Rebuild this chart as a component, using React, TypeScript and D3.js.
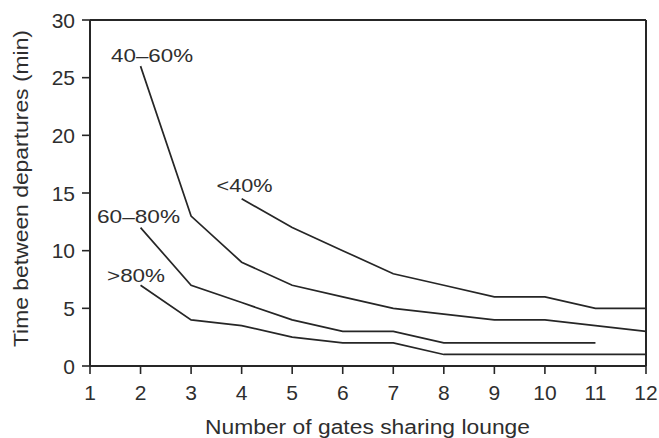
import React from "react";
import * as d3 from "d3";

const gates = [1, 2, 3, 4, 5, 6, 7, 8, 9, 10, 11, 12];
const yTicks = [0, 5, 10, 15, 20, 25, 30];

const seriesNames = ["<40%", "40–60%", "60–80%", ">80%"];
const lt40X = [4, 5, 6, 7, 8, 9, 10, 11, 12];
const lt40Y = [14.5, 12, 10, 8, 7, 6, 6, 5, 5];
const s40to60X = [2, 3, 4, 5, 6, 7, 8, 9, 10, 11, 12];
const s40to60Y = [26, 13, 9, 7, 6, 5, 4.5, 4, 4, 3.5, 3];
const s60to80X = [2, 3, 4, 5, 6, 7, 8, 9, 10, 11];
const s60to80Y = [12, 7, 5.5, 4, 3, 3, 2, 2, 2, 2];
const gt80X = [2, 3, 4, 5, 6, 7, 8, 9, 10, 11, 12];
const gt80Y = [7, 4, 3.5, 2.5, 2, 2, 1, 1, 1, 1, 1];

// label anchored at series' first point, with pixel offsets
const labelAnchors = [
  { name: "<40%", x: 4, y: 14.5, dx: -25, dy: -7, len: 56 },
  { name: "40–60%", x: 2, y: 26, dx: -29.5, dy: -4, len: 82 },
  { name: "60–80%", x: 2, y: 12, dx: -43.5, dy: -5, len: 83 },
  { name: ">80%", x: 2, y: 7, dx: -33.5, dy: -3, len: 58 },
];

export default function App() {
  const W = 659, H = 438;
  const left = 90, right = 646, top = 20, bottom = 366;
  const x = d3.scaleLinear().domain([1, 12]).range([left, right]);
  const y = d3.scaleLinear().domain([0, 30]).range([bottom, top]);
  const line = d3.line<[number, number]>().x(d => x(d[0])).y(d => y(d[1]));
  const series = [
    [lt40X, lt40Y],
    [s40to60X, s40to60Y],
    [s60to80X, s60to80Y],
    [gt80X, gt80Y],
  ].map(([xs, ys]) => xs.map((v, i) => [v, ys[i]] as [number, number]));
  const font = "'Liberation Sans', Arial, sans-serif";
  const textColor = "#2e2e2e";
  const stroke = "#262626";
  return (
    <svg width={W} height={H} style={{ position: "absolute", left: 0, top: 0, background: "#fff" }} fontFamily={font}>
      <rect x={0} y={0} width={W} height={H} fill="#fff" />
      <line x1={left} y1={top} x2={right} y2={top} stroke={stroke} strokeWidth={2} />
      <line x1={right} y1={top} x2={right} y2={bottom} stroke={stroke} strokeWidth={2} />
      <line x1={left} y1={top} x2={left} y2={bottom} stroke={stroke} strokeWidth={2} />
      <line x1={left} y1={bottom} x2={right} y2={bottom} stroke={stroke} strokeWidth={2} />
      {yTicks.map(t => (
        <g key={"y" + t}>
          <line x1={left - 8} x2={left} y1={y(t)} y2={y(t)} stroke={stroke} strokeWidth={1.6} />
          <text x={left - 15} y={y(t)} dy="0.36em" textAnchor="end" fontSize={21} fill={textColor}>{t}</text>
        </g>
      ))}
      {gates.map(g => (
        <g key={"x" + g}>
          <line x1={x(g)} x2={x(g)} y1={bottom} y2={bottom + 8} stroke={stroke} strokeWidth={1.6} />
          <text x={x(g)} y={bottom + 34} textAnchor="middle" fontSize={21} fill={textColor}>{g}</text>
        </g>
      ))}
      {series.map((s, i) => (
        <path key={seriesNames[i]} d={line(s) || ""} fill="none" stroke={stroke} strokeWidth={1.7} />
      ))}
      {labelAnchors.map(l => (
        <text key={l.name} x={x(l.x) + l.dx} y={y(l.y) + l.dy} fontSize={19} fill={textColor}
          textLength={l.len} lengthAdjust="spacingAndGlyphs">{l.name}</text>
      ))}
      <text x={205} y={434} fontSize={20} fill={textColor} textLength={325} lengthAdjust="spacingAndGlyphs">
        Number of gates sharing lounge
      </text>
      <text transform={`translate(28, 347) rotate(-90)`} fontSize={20} fill={textColor}
        textLength={317} lengthAdjust="spacingAndGlyphs">
        Time between departures (min)
      </text>
    </svg>
  );
}
